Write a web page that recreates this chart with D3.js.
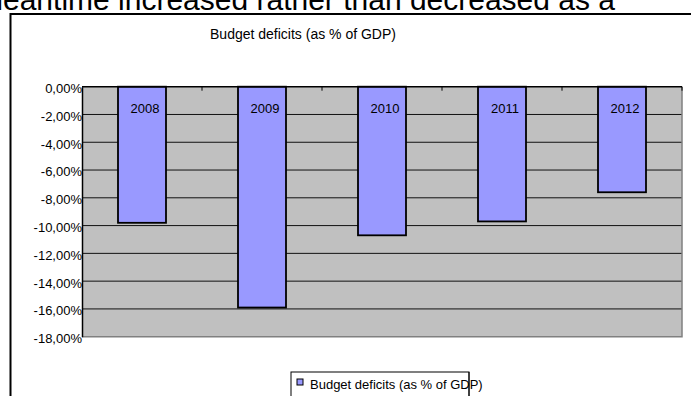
<!DOCTYPE html>
<html>
<head>
<meta charset="utf-8">
<script src="https://cdn.jsdelivr.net/npm/d3@7"></script>
<style>
  html, body { margin: 0; padding: 0; background: #fff; }
  svg { display: block; font-family: "Liberation Sans", Arial, sans-serif; }
</style>
</head>
<body>
<svg id="chart" width="691" height="396"></svg>
<script>
// Budget deficit per year, % of GDP
const categories = ["2008", "2009", "2010", "2011", "2012"];
const deficits = [-9.8, -15.9, -10.7, -9.7, -7.6];
const yTicks = [0, -2, -4, -6, -8, -10, -12, -14, -16, -18];
const chartTitle = "Budget deficits (as % of GDP)";
const seriesName = "Budget deficits (as % of GDP)";
const pageText = "meantime increased rather than decreased as a";

const svg = d3.select("#chart");

// European number format: comma decimal, hyphen minus
const locale = d3.formatLocale({ decimal: ",", thousands: ".", grouping: [3], currency: ["", "€"], minus: "-" });
const fmt = v => locale.format(".2f")(v) + "%";

const plot = { left: 82, right: 682, top: 86.7, bottom: 336.7 };

const x = d3.scaleBand()
  .domain(categories)
  .range([plot.left, plot.right])
  .paddingInner(0.6)
  .paddingOuter(0.3);

const y = d3.scaleLinear()
  .domain([-18, 0])
  .range([plot.bottom, plot.top]);

// surrounding document text, running off the top edge
svg.append("text")
  .attr("x", -22).attr("y", 10)
  .attr("font-size", 30)
  .attr("fill", "#000")
  .text(pageText);

// chart frame
svg.append("rect")
  .attr("x", 10.5).attr("y", 14)
  .attr("width", 720).attr("height", 420)
  .attr("fill", "#fff")
  .attr("stroke", "#000").attr("stroke-width", 2);

// title
svg.append("text")
  .attr("x", 303).attr("y", 39)
  .attr("text-anchor", "middle")
  .attr("font-size", 14)
  .text(chartTitle);

// plot background
svg.append("rect")
  .attr("x", plot.left).attr("y", plot.top)
  .attr("width", plot.right - plot.left).attr("height", plot.bottom - plot.top)
  .attr("fill", "#c0c0c0");

// horizontal gridlines
svg.append("g")
  .selectAll("line")
  .data(yTicks.filter(t => t !== 0 && t !== -18))
  .join("line")
  .attr("x1", plot.left).attr("x2", plot.right)
  .attr("y1", d => y(d)).attr("y2", d => y(d))
  .attr("stroke", "#111").attr("stroke-width", 1);

// plot border right/bottom
svg.append("path")
  .attr("d", `M${plot.right},${plot.top}V${plot.bottom}H${plot.left}`)
  .attr("fill", "none")
  .attr("stroke", "#808080").attr("stroke-width", 1.5);

// bars
svg.append("g")
  .selectAll("rect")
  .data(categories.map((c, i) => ({ c, v: deficits[i] })))
  .join("rect")
  .attr("x", d => x(d.c))
  .attr("y", d => y(0))
  .attr("width", x.bandwidth())
  .attr("height", d => y(d.v) - y(0))
  .attr("fill", "#9999ff")
  .attr("stroke", "#000").attr("stroke-width", 1.8);

// value axis (left)
const yAxis = d3.axisLeft(y)
  .tickValues(yTicks)
  .tickFormat(fmt)
  .tickSize(0)
  .tickPadding(0);
const gy = svg.append("g")
  .attr("transform", `translate(${plot.left},0)`)
  .call(yAxis);
gy.select(".domain").attr("stroke", "#000").attr("stroke-width", 1.5);
gy.selectAll("text")
  .attr("font-size", 13)
  .attr("font-family", "Liberation Sans, Arial, sans-serif")
  .attr("fill", "#000")
  .attr("dy", "0.45em");

// category axis along zero line, ticks between categories
const boundaries = categories.map(c => x(c) + x.bandwidth() + x.step() * x.paddingInner() / 2);
svg.append("line")
  .attr("x1", plot.left).attr("x2", plot.right)
  .attr("y1", y(0)).attr("y2", y(0))
  .attr("stroke", "#000").attr("stroke-width", 1.5);
svg.append("g")
  .selectAll("line")
  .data(boundaries)
  .join("line")
  .attr("x1", d => d).attr("x2", d => d)
  .attr("y1", y(0)).attr("y2", y(0) + 4)
  .attr("stroke", "#000").attr("stroke-width", 1);

// category labels inside the bars
svg.append("g")
  .selectAll("text")
  .data(categories)
  .join("text")
  .attr("x", d => x(d) + x.bandwidth() / 2 + 3)
  .attr("y", y(0) + 26)
  .attr("text-anchor", "middle")
  .attr("font-size", 13)
  .text(d => d);

// legend
const lg = svg.append("g");
lg.append("rect")
  .attr("x", 291).attr("y", 372)
  .attr("width", 178).attr("height", 40)
  .attr("fill", "#fff")
  .attr("stroke", "#000").attr("stroke-width", 1);
lg.append("rect")
  .attr("x", 297).attr("y", 379)
  .attr("width", 6).attr("height", 6)
  .attr("fill", "#9999ff")
  .attr("stroke", "#000").attr("stroke-width", 1);
lg.append("text")
  .attr("x", 310).attr("y", 388.5)
  .attr("font-size", 13)
  .text(seriesName);
// legend frame edge drawn over the label
lg.append("line")
  .attr("x1", 469).attr("x2", 469)
  .attr("y1", 372).attr("y2", 396)
  .attr("stroke", "#000").attr("stroke-width", 1);
</script>
</body>
</html>
